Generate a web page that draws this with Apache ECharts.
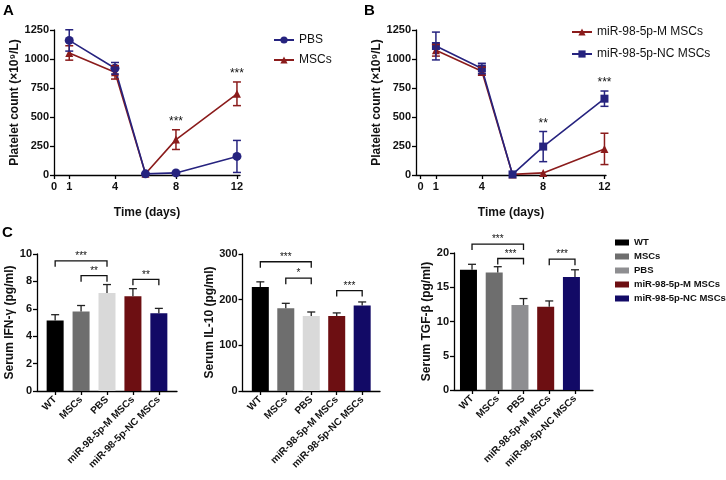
<!DOCTYPE html>
<html><head><meta charset="utf-8">
<script src="https://cdn.jsdelivr.net/npm/echarts@6/dist/echarts.min.js"></script>
<style>html,body{margin:0;padding:0;background:#fff}#c{width:726px;height:480px}</style>
</head><body><div id="c"></div>
<script>
// ---------- Panel A / B data ----------
const lineDays = [1, 4, 6, 8, 12];
const lineTicks = [0, 1, 4, 8, 12];
const pbsMean = [1160, 920, 10, 18, 160];
const pbsSD = [92, 50, 0, 0, 138];
const mscMean = [1052, 885, 10, 305, 700];
const mscSD = [62, 58, 0, 85, 102];
const starsA = [[8, '***'], [12, '***']];

const mMean = [1075, 895, 5, 18, 225];
const mSD = [50, 35, 0, 0, 135];
const ncMean = [1112, 918, 5, 245, 658];
const ncSD = [120, 45, 0, 130, 66];
const starsB = [[8, '**'], [12, '***']];

// ---------- Panel C data ----------
const categories = ['WT', 'MSCs', 'PBS', 'miR-98-5p-M MSCs', 'miR-98-5p-NC MSCs'];
const ifnMean = [5.15, 5.8, 7.15, 6.92, 5.68];
const ifnSD = [0.42, 0.44, 0.62, 0.55, 0.35];
const ifnSig = [[0, 2, 9.5, '***'], [1, 2, 8.42, '**'], [3, 4, 8.15, '**']];
const il10Mean = [228, 181, 164, 164, 187];
const il10SD = [11, 11, 9, 7, 8];
const il10Sig = [[0, 2, 283, '***'], [1, 2, 247, '*'], [3, 4, 220, '***']];
const tgfMean = [17.55, 17.15, 12.4, 12.15, 16.5];
const tgfSD = [0.8, 0.85, 0.95, 0.85, 1.05];
const tgfSig = [[0, 2, 21.3, '***'], [1, 2, 19.2, '***'], [3, 4, 19.1, '***']];

// ---------- styles ----------
const FONT = '"Liberation Sans", Arial, sans-serif';
const TXT = '#111';
const BLUE = '#26237f', RED = '#8b1c1c';
const barColors = ['#000000', '#6e6e6e', '#d9d9d9', '#6d0f12', '#120a66'];
const barColorsTgf = ['#000000', '#6e6e6e', '#8e8e91', '#6d0f12', '#120a66'];
const legendColors = ['#000000', '#6e6e6e', '#8e8e91', '#6d0f12', '#120a66'];

const chart = echarts.init(document.getElementById('c'), null, {renderer: 'canvas'});

const axisLineStyle = {show: true, onZero: false, lineStyle: {color: '#000', width: 1.3}};
const tickStyle = {show: true, length: 4, lineStyle: {color: '#000', width: 1.3}};
const labelStyle = {fontSize: 11, fontWeight: 'bold', color: TXT, fontFamily: FONT};

const grids = [
  {left: 54, top: 30, width: 186, height: 145},
  {left: 416, top: 30, width: 190, height: 145},
  {left: 37, top: 254, width: 140, height: 137},
  {left: 242.5, top: 254, width: 137.5, height: 137},
  {left: 454, top: 253, width: 139, height: 137}
];

function lineX(min, max) {
  return {
    type: 'value', min: min, max: max,
    axisLine: axisLineStyle,
    axisTick: Object.assign({}, tickStyle, {customValues: lineTicks}),
    axisLabel: Object.assign({}, labelStyle, {customValues: lineTicks, margin: 6, formatter: v => String(v)}),
    splitLine: {show: false},
    name: 'Time (days)', nameLocation: 'middle', nameGap: 32,
    nameTextStyle: {fontSize: 12, fontWeight: 'bold', color: TXT, fontFamily: FONT}
  };
}
function yAxisDef(max, interval, name, gap) {
  return {
    type: 'value', min: 0, max: max, interval: interval,
    axisLine: axisLineStyle, axisTick: tickStyle,
    axisLabel: Object.assign({}, labelStyle, {margin: 5, formatter: v => String(v)}),
    splitLine: {show: false},
    name: name, nameLocation: 'middle', nameGap: gap,
    nameTextStyle: {fontSize: 12, fontWeight: 'bold', color: TXT, fontFamily: FONT}
  };
}
const catIdx = [0, 1, 2, 3, 4];
function barX() {
  return {
    type: 'value', min: -0.7, max: 4.7,
    axisLine: axisLineStyle,
    axisTick: Object.assign({}, tickStyle, {customValues: catIdx}),
    axisLabel: Object.assign({}, labelStyle, {
      fontSize: 10, rotate: 45, margin: 7, customValues: catIdx,
      formatter: v => categories[Math.round(v)]
    }),
    splitLine: {show: false}
  };
}

const xAxes = [lineX(0, 12.2), lineX(-0.3, 12.1), barX(), barX(), barX()].map((a, i) => Object.assign(a, {gridIndex: i}));
const yAxes = [
  yAxisDef(1250, 250, 'Platelet count (×10⁹/L)', 33),
  yAxisDef(1250, 250, 'Platelet count (×10⁹/L)', 33),
  yAxisDef(10, 2, 'Serum IFN-γ (pg/ml)', 19),
  yAxisDef(300, 100, 'Serum IL-10 (pg/ml)', 24),
  yAxisDef(20, 5, 'Serum TGF-β (pg/ml)', 19)
].map((a, i) => Object.assign(a, {gridIndex: i}));

const series = [];

function addLine(idx, name, mean, sd, color, symbol, size) {
  series.push({
    type: 'line', name: name, xAxisIndex: idx, yAxisIndex: idx,
    data: lineDays.map((d, i) => [d, mean[i]]),
    symbol: symbol, symbolSize: size,
    lineStyle: {color: color, width: 1.6}, itemStyle: {color: color},
    z: 3
  });
  series.push({
    type: 'custom', xAxisIndex: idx, yAxisIndex: idx, clip: false, z: 4,
    data: lineDays.map((d, i) => [d, mean[i] - sd[i], mean[i] + sd[i]]).filter((r, i) => sd[i] > 0),
    encode: {x: 0, y: [1, 2]},
    renderItem: function (params, api) {
      const lo = api.coord([api.value(0), api.value(1)]);
      const hi = api.coord([api.value(0), api.value(2)]);
      const st = {stroke: color, lineWidth: 1.5};
      return {type: 'group', children: [
        {type: 'line', shape: {x1: lo[0], y1: lo[1], x2: hi[0], y2: hi[1]}, style: st},
        {type: 'line', shape: {x1: lo[0] - 4, y1: lo[1], x2: lo[0] + 4, y2: lo[1]}, style: st},
        {type: 'line', shape: {x1: hi[0] - 4, y1: hi[1], x2: hi[0] + 4, y2: hi[1]}, style: st}
      ]};
    }
  });
}
function addStars(idx, stars, m1, s1, m2, s2) {
  series.push({
    type: 'custom', xAxisIndex: idx, yAxisIndex: idx, clip: false, z: 5,
    data: stars.map(s => {
      const i = lineDays.indexOf(s[0]);
      return [s[0], Math.max(m1[i] + s1[i], m2[i] + s2[i])];
    }),
    encode: {x: 0, y: 1},
    renderItem: function (params, api) {
      const p = api.coord([api.value(0), api.value(1)]);
      return {type: 'text', x: p[0], y: p[1] - 2, style: {
        text: stars[params.dataIndex][1], fill: TXT, font: '12px ' + FONT,
        align: 'center', verticalAlign: 'bottom'
      }};
    }
  });
}
addLine(0, 'MSCs', mscMean, mscSD, RED, 'triangle', 8);
addLine(0, 'PBS', pbsMean, pbsSD, BLUE, 'circle', 9);
addStars(0, starsA, pbsMean, pbsSD, mscMean, mscSD);
addLine(1, 'miR-98-5p-M MSCs', mMean, mSD, RED, 'triangle', 8);
addLine(1, 'miR-98-5p-NC MSCs', ncMean, ncSD, BLUE, 'rect', 8);
addStars(1, starsB, mMean, mSD, ncMean, ncSD);

function addBars(idx, mean, sd, sig, colors) {
  series.push({
    type: 'bar', xAxisIndex: idx, yAxisIndex: idx, barWidth: 17,
    data: mean.map((v, i) => ({value: [i, v], itemStyle: {color: colors[i]}})),
    z: 2
  });
  series.push({
    type: 'custom', xAxisIndex: idx, yAxisIndex: idx, clip: false, z: 3,
    data: mean.map((v, i) => [i, v, v + sd[i]]),
    encode: {x: 0, y: [1, 2]},
    renderItem: function (params, api) {
      const a = api.coord([api.value(0), api.value(1)]);
      const b = api.coord([api.value(0), api.value(2)]);
      const st = {stroke: '#222', lineWidth: 1.3};
      return {type: 'group', children: [
        {type: 'line', shape: {x1: a[0], y1: a[1], x2: b[0], y2: b[1]}, style: st},
        {type: 'line', shape: {x1: b[0] - 4, y1: b[1], x2: b[0] + 4, y2: b[1]}, style: st}
      ]};
    }
  });
  series.push({
    type: 'custom', xAxisIndex: idx, yAxisIndex: idx, clip: false, z: 4,
    data: sig.map(s => [s[0], s[1], s[2]]),
    encode: {x: [0, 1], y: 2},
    renderItem: function (params, api) {
      const p1 = api.coord([api.value(0), api.value(2)]);
      const p2 = api.coord([api.value(1), api.value(2)]);
      return {type: 'group', children: [
        {type: 'polyline', shape: {points: [[p1[0], p1[1] + 6], p1, p2, [p2[0], p2[1] + 6]]},
          style: {stroke: '#111', lineWidth: 1.3, fill: null}},
        {type: 'text', x: (p1[0] + p2[0]) / 2, y: p1[1] + 0.5, style: {
          text: sig[params.dataIndex][3], fill: TXT, font: '10px ' + FONT,
          align: 'center', verticalAlign: 'bottom'}}
      ]};
    }
  });
}
addBars(2, ifnMean, ifnSD, ifnSig, barColors);
addBars(3, il10Mean, il10SD, il10Sig, barColors);
addBars(4, tgfMean, tgfSD, tgfSig, barColorsTgf);

// legend-only series for panel C
categories.forEach((c, i) => {
  series.push({type: 'bar', name: 'c_' + c, xAxisIndex: 4, yAxisIndex: 4, data: [], itemStyle: {color: legendColors[i]}});
});

const option = {
  animation: false,
  textStyle: {fontFamily: FONT},
  grid: grids,
  xAxis: xAxes,
  yAxis: yAxes,
  legend: [
    {data: ['PBS', 'MSCs'], orient: 'vertical', left: 268, top: 28, itemWidth: 20, itemHeight: 9, itemGap: 6,
      textStyle: {fontSize: 12, color: TXT, lineHeight: 14}},
    {data: ['miR-98-5p-M MSCs', 'miR-98-5p-NC MSCs'], orient: 'vertical', left: 566, top: 20, itemWidth: 20, itemHeight: 9, itemGap: 8,
      textStyle: {fontSize: 12, color: TXT, lineHeight: 14}},
    {data: categories.map(c => 'c_' + c), formatter: n => n.slice(2), orient: 'vertical', left: 610, top: 232,
      icon: 'rect', itemWidth: 14, itemHeight: 6, itemGap: 3, itemStyle: {borderWidth: 0},
      textStyle: {fontSize: 9.5, fontWeight: 'bold', color: TXT, lineHeight: 11}}
  ],
  graphic: [
    {type: 'text', left: 3, top: 3, style: {text: 'A', font: 'bold 15px ' + FONT, fill: '#000'}},
    {type: 'text', left: 364, top: 3, style: {text: 'B', font: 'bold 15px ' + FONT, fill: '#000'}},
    {type: 'text', left: 2, top: 225, style: {text: 'C', font: 'bold 15px ' + FONT, fill: '#000'}}
  ],
  series: series
};
chart.setOption(option);
</script>
</body></html>
